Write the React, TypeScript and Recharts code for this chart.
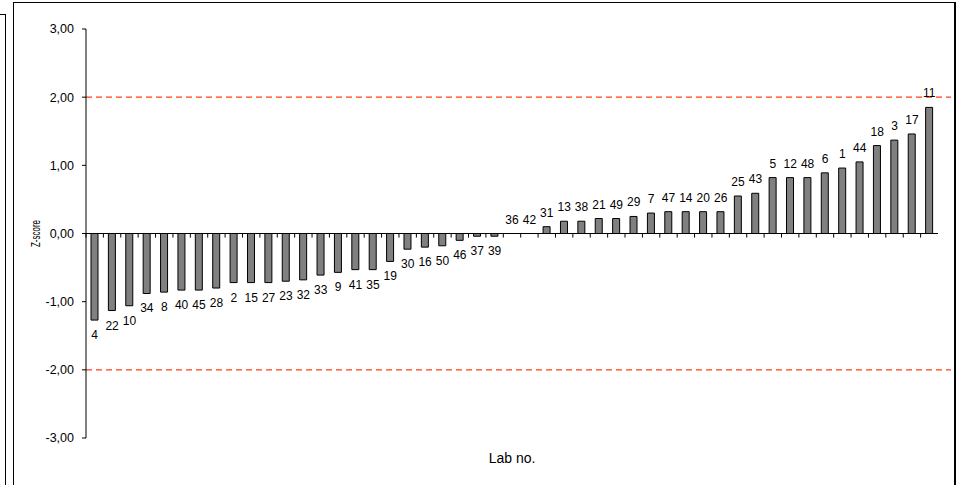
import { BarChart, Bar, XAxis, YAxis, ReferenceLine, ReferenceDot } from 'recharts'

// lab numbers in plotted order (sorted by z-score)
const LABS = [
  '4', '22', '10', '34', '8', '40', '45', '28', '2', '15', '27', '23', '32', '33', '9', '41', '35',
  '19', '30', '16', '50', '46', '37', '39', '36', '42', '31', '13', '38', '21', '49', '29', '7',
  '47', '14', '20', '26', '25', '43', '5', '12', '48', '6', '1', '44', '18', '3', '17', '11',
]
const Z_SCORES = [
  -1.27, -1.13, -1.06, -0.88, -0.86, -0.83, -0.83, -0.8, -0.72, -0.72, -0.72, -0.7, -0.68, -0.61,
  -0.57, -0.53, -0.53, -0.41, -0.23, -0.2, -0.18, -0.1, -0.04, -0.04, 0, 0, 0.1, 0.18, 0.18, 0.22,
  0.22, 0.25, 0.3, 0.32, 0.32, 0.32, 0.32, 0.55, 0.59, 0.82, 0.82, 0.82, 0.89, 0.96, 1.05, 1.29,
  1.37, 1.46, 1.85,
]
const Y_TICKS = [-3, -2, -1, 0, 1, 2, 3]
const LIMITS = [2, -2]

const data = LABS.map((lab, i) => ({ lab, z: Z_SCORES[i] }))

const FONT = '"Liberation Sans", Arial, sans-serif'

const fmt = (v: number) => v.toFixed(2).replace('.', ',')

// lab number written above positive bars, below negative ones
const labLabel = (lab: string, z: number) => (p: any) => (
  <text
    x={p.cx}
    y={z >= 0 ? p.cy - 10 : p.cy + 19}
    textAnchor="middle"
    fontSize={12}
    fontFamily={FONT}
    fill="#000"
  >
    {lab}
  </text>
)

const LimitLine = (p: any) => (
  <line
    x1={p.x1}
    y1={p.y1}
    x2={p.x2 + 13}
    y2={p.y2}
    stroke="#ff4010"
    strokeWidth={1.3}
    strokeDasharray="6 4"
  />
)

export default function App() {
  return (
    <div
      style={{
        position: 'absolute',
        left: 0,
        top: 0,
        width: 958,
        height: 485,
        overflow: 'hidden',
        background: '#fff',
        fontFamily: FONT,
      }}
    >
      {/* leftover frame of the neighbouring chart */}
      <div style={{ position: 'absolute', left: 0, top: 14, width: 5, height: 600, borderTop: '1px solid #000', borderRight: '1px solid #000' }} />
      {/* chart frame */}
      <div style={{ position: 'absolute', left: 13, top: 2, width: 940, height: 600, border: '1px solid #000', borderRightWidth: 2 }} />

      <div style={{ position: 'absolute', left: 0, top: 0 }}>
        <BarChart width={958} height={485} data={data} margin={{ top: 29, right: 20, bottom: 17, left: 0 }}>
          <XAxis
            dataKey="lab"
            tick={false}
            tickLine={false}
            axisLine={false}
            height={30}
            label={{ value: 'Lab no.', position: 'insideTop', offset: 15, fontSize: 14, fill: '#000', fontFamily: FONT }}
          />
          <YAxis
            type="number"
            domain={[-3, 3]}
            ticks={Y_TICKS}
            tickFormatter={fmt}
            width={86}
            tickSize={4}
            tickMargin={8}
            axisLine={{ stroke: '#000' }}
            tickLine={{ stroke: '#000' }}
            tick={{ fontSize: 12.5, fill: '#000', fontFamily: FONT }}
            label={{
              content: (p: any) => {
                const vb = p.viewBox
                const cx = vb.x + 36
                const cy = vb.y + vb.height / 2
                return (
                  <text
                    x={cx}
                    y={cy}
                    transform={`rotate(-90 ${cx} ${cy})`}
                    textAnchor="middle"
                    dominantBaseline="central"
                    fontSize={12}
                    fontFamily={FONT}
                    textLength={27}
                    lengthAdjust="spacingAndGlyphs"
                    fill="#000"
                  >
                    Z-score
                  </text>
                )
              },
            }}
          />
          {LIMITS.map(l => (
            <ReferenceLine key={l} y={l} shape={LimitLine} ifOverflow="visible" />
          ))}
          <Bar dataKey="z" fill="#808080" stroke="#000" strokeWidth={1} barSize={7} isAnimationActive={false} />
          {/* zero axis with tick marks between the categories */}
          <ReferenceLine y={0} stroke="#000" strokeWidth={1} />
          {LABS.map(lab => (
            <ReferenceLine
              key={'t' + lab}
              segment={[{ x: lab, y: 0 }, { x: lab, y: -0.06 }]}
              position="start"
              stroke="#000"
            />
          ))}
          <ReferenceLine
            segment={[{ x: LABS[LABS.length - 1], y: 0 }, { x: LABS[LABS.length - 1], y: -0.06 }]}
            position="end"
            stroke="#000"
          />
          {data.map(d => (
            <ReferenceDot key={'l' + d.lab} x={d.lab} y={d.z} r={0} shape={labLabel(d.lab, d.z)} />
          ))}
        </BarChart>
      </div>
    </div>
  )
}
